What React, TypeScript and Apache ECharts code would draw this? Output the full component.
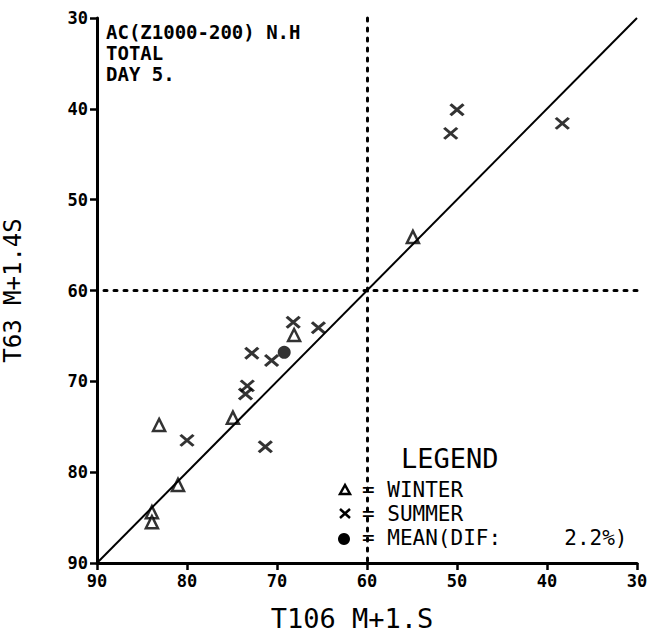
import React, { useEffect, useRef } from "react";
import * as echarts from "echarts";

const axisTicks = [30, 40, 50, 60, 70, 80, 90];
const diagonal = [[90, 90], [30, 30]];
const winter = [
  [54.9, 54.1], [68.1, 64.9], [74.9, 74.0], [83.1, 74.8],
  [81.0, 81.4], [83.9, 84.4], [83.9, 85.5],
];
const summer = [
  [50.0, 40.1], [50.7, 42.7], [38.3, 41.6], [68.2, 63.5], [65.4, 64.1],
  [72.8, 66.9], [70.6, 67.7], [73.3, 70.5], [73.5, 71.4], [80.0, 76.5], [71.3, 77.2],
];
const mean = [[69.2, 66.8]];
const headerLines = ["AC(Z1000-200) N.H", "TOTAL", "DAY 5."];
const legendLabels = ["= WINTER", "= SUMMER", "= MEAN(DIF:     2.2%)"];

const FONT = "'DejaVu Sans Mono', monospace";
const XPATH = "path://M0 0L10 10M10 0L0 10";

export default function App() {
  const ref = useRef<HTMLDivElement>(null);
  useEffect(() => {
    document.body.style.margin = "0";
    const chart = echarts.init(ref.current!, undefined, { renderer: "svg" });
    const axisCommon = {
      type: "value",
      min: 30,
      max: 90,
      interval: 10,
      inverse: true,
      splitLine: { show: false },
      axisLine: { show: true, onZero: false, lineStyle: { color: "#000", width: 3 } },
      axisTick: { show: true, length: 7, lineStyle: { color: "#000", width: 2.5 } },
      axisLabel: {
        color: "#000",
        fontFamily: FONT,
        fontWeight: "bold",
        fontSize: 17,
        margin: 9,
        formatter: (v: number) => (axisTicks.includes(v) ? String(v) : ""),
      },
    };
    chart.setOption({
      animation: false,
      backgroundColor: "#fff",
      grid: { left: 97, right: 10, top: 18, bottom: 74, containLabel: false, outerBoundsMode: "none" },
      xAxis: {
        ...axisCommon,
        name: "T106 M+1.S",
        nameLocation: "middle",
        nameGap: 42,
        nameTextStyle: { color: "#000", fontFamily: FONT, fontSize: 27, padding: [0, 30, 0, 0] },
      },
      yAxis: {
        ...axisCommon,
        name: "T63 M+1.4S",
        nameLocation: "middle",
        nameGap: 72,
        nameRotate: 90,
        nameTextStyle: { color: "#000", fontFamily: FONT, fontSize: 24 },
      },
      series: [
        {
          type: "line",
          data: diagonal,
          symbol: "none",
          lineStyle: { color: "#000", width: 2 },
          silent: true,
          markLine: {
            symbol: "none",
            silent: true,
            label: { show: false },
            lineStyle: { color: "#000", width: 3, type: [3, 7], cap: "round" },
            data: [{ xAxis: 60 }, { yAxis: 60 }],
          },
        },
        {
          type: "scatter",
          name: "WINTER",
          data: winter,
          symbol: "triangle",
          symbolSize: 12,
          itemStyle: { color: "#fff", borderColor: "#000", borderWidth: 2.5 },
        },
        {
          type: "scatter",
          name: "SUMMER",
          data: summer,
          symbol: XPATH,
          symbolSize: [13, 11],
          itemStyle: { color: "none", borderColor: "#000", borderWidth: 3 },
        },
        {
          type: "scatter",
          name: "MEAN",
          data: mean,
          symbol: "circle",
          symbolSize: 13,
          itemStyle: { color: "#000" },
          z: 5,
        },
      ],
      graphic: [
        ...headerLines.map((t, i) => ({
          type: "text",
          left: 106,
          top: 22 + i * 21,
          style: { text: t, fill: "#000", font: `bold 19px ${FONT}`, lineHeight: 19 },
        })),
        {
          type: "text",
          left: 401,
          top: 445,
          style: { text: "LEGEND", fill: "#000", font: `27px ${FONT}` },
        },
        ...legendLabels.map((t, i) => ({
          type: "text",
          left: 362,
          top: 479 + i * 24,
          style: { text: t, fill: "#000", font: `21px ${FONT}` },
        })),
        {
          type: "polygon",
          shape: { points: [[345, 485], [340, 494], [350, 494]] },
          style: { fill: "#fff", stroke: "#000", lineWidth: 2.5 },
        },
        {
          type: "group",
          children: [
            { type: "line", shape: { x1: 340, y1: 509, x2: 350, y2: 518 }, style: { stroke: "#000", lineWidth: 2.5 } },
            { type: "line", shape: { x1: 350, y1: 509, x2: 340, y2: 518 }, style: { stroke: "#000", lineWidth: 2.5 } },
          ],
        },
        {
          type: "circle",
          shape: { cx: 344, cy: 539, r: 6 },
          style: { fill: "#000" },
        },
      ],
    });
    return () => chart.dispose();
  }, []);
  return <div ref={ref} style={{ width: 647, height: 637 }} />;
}
